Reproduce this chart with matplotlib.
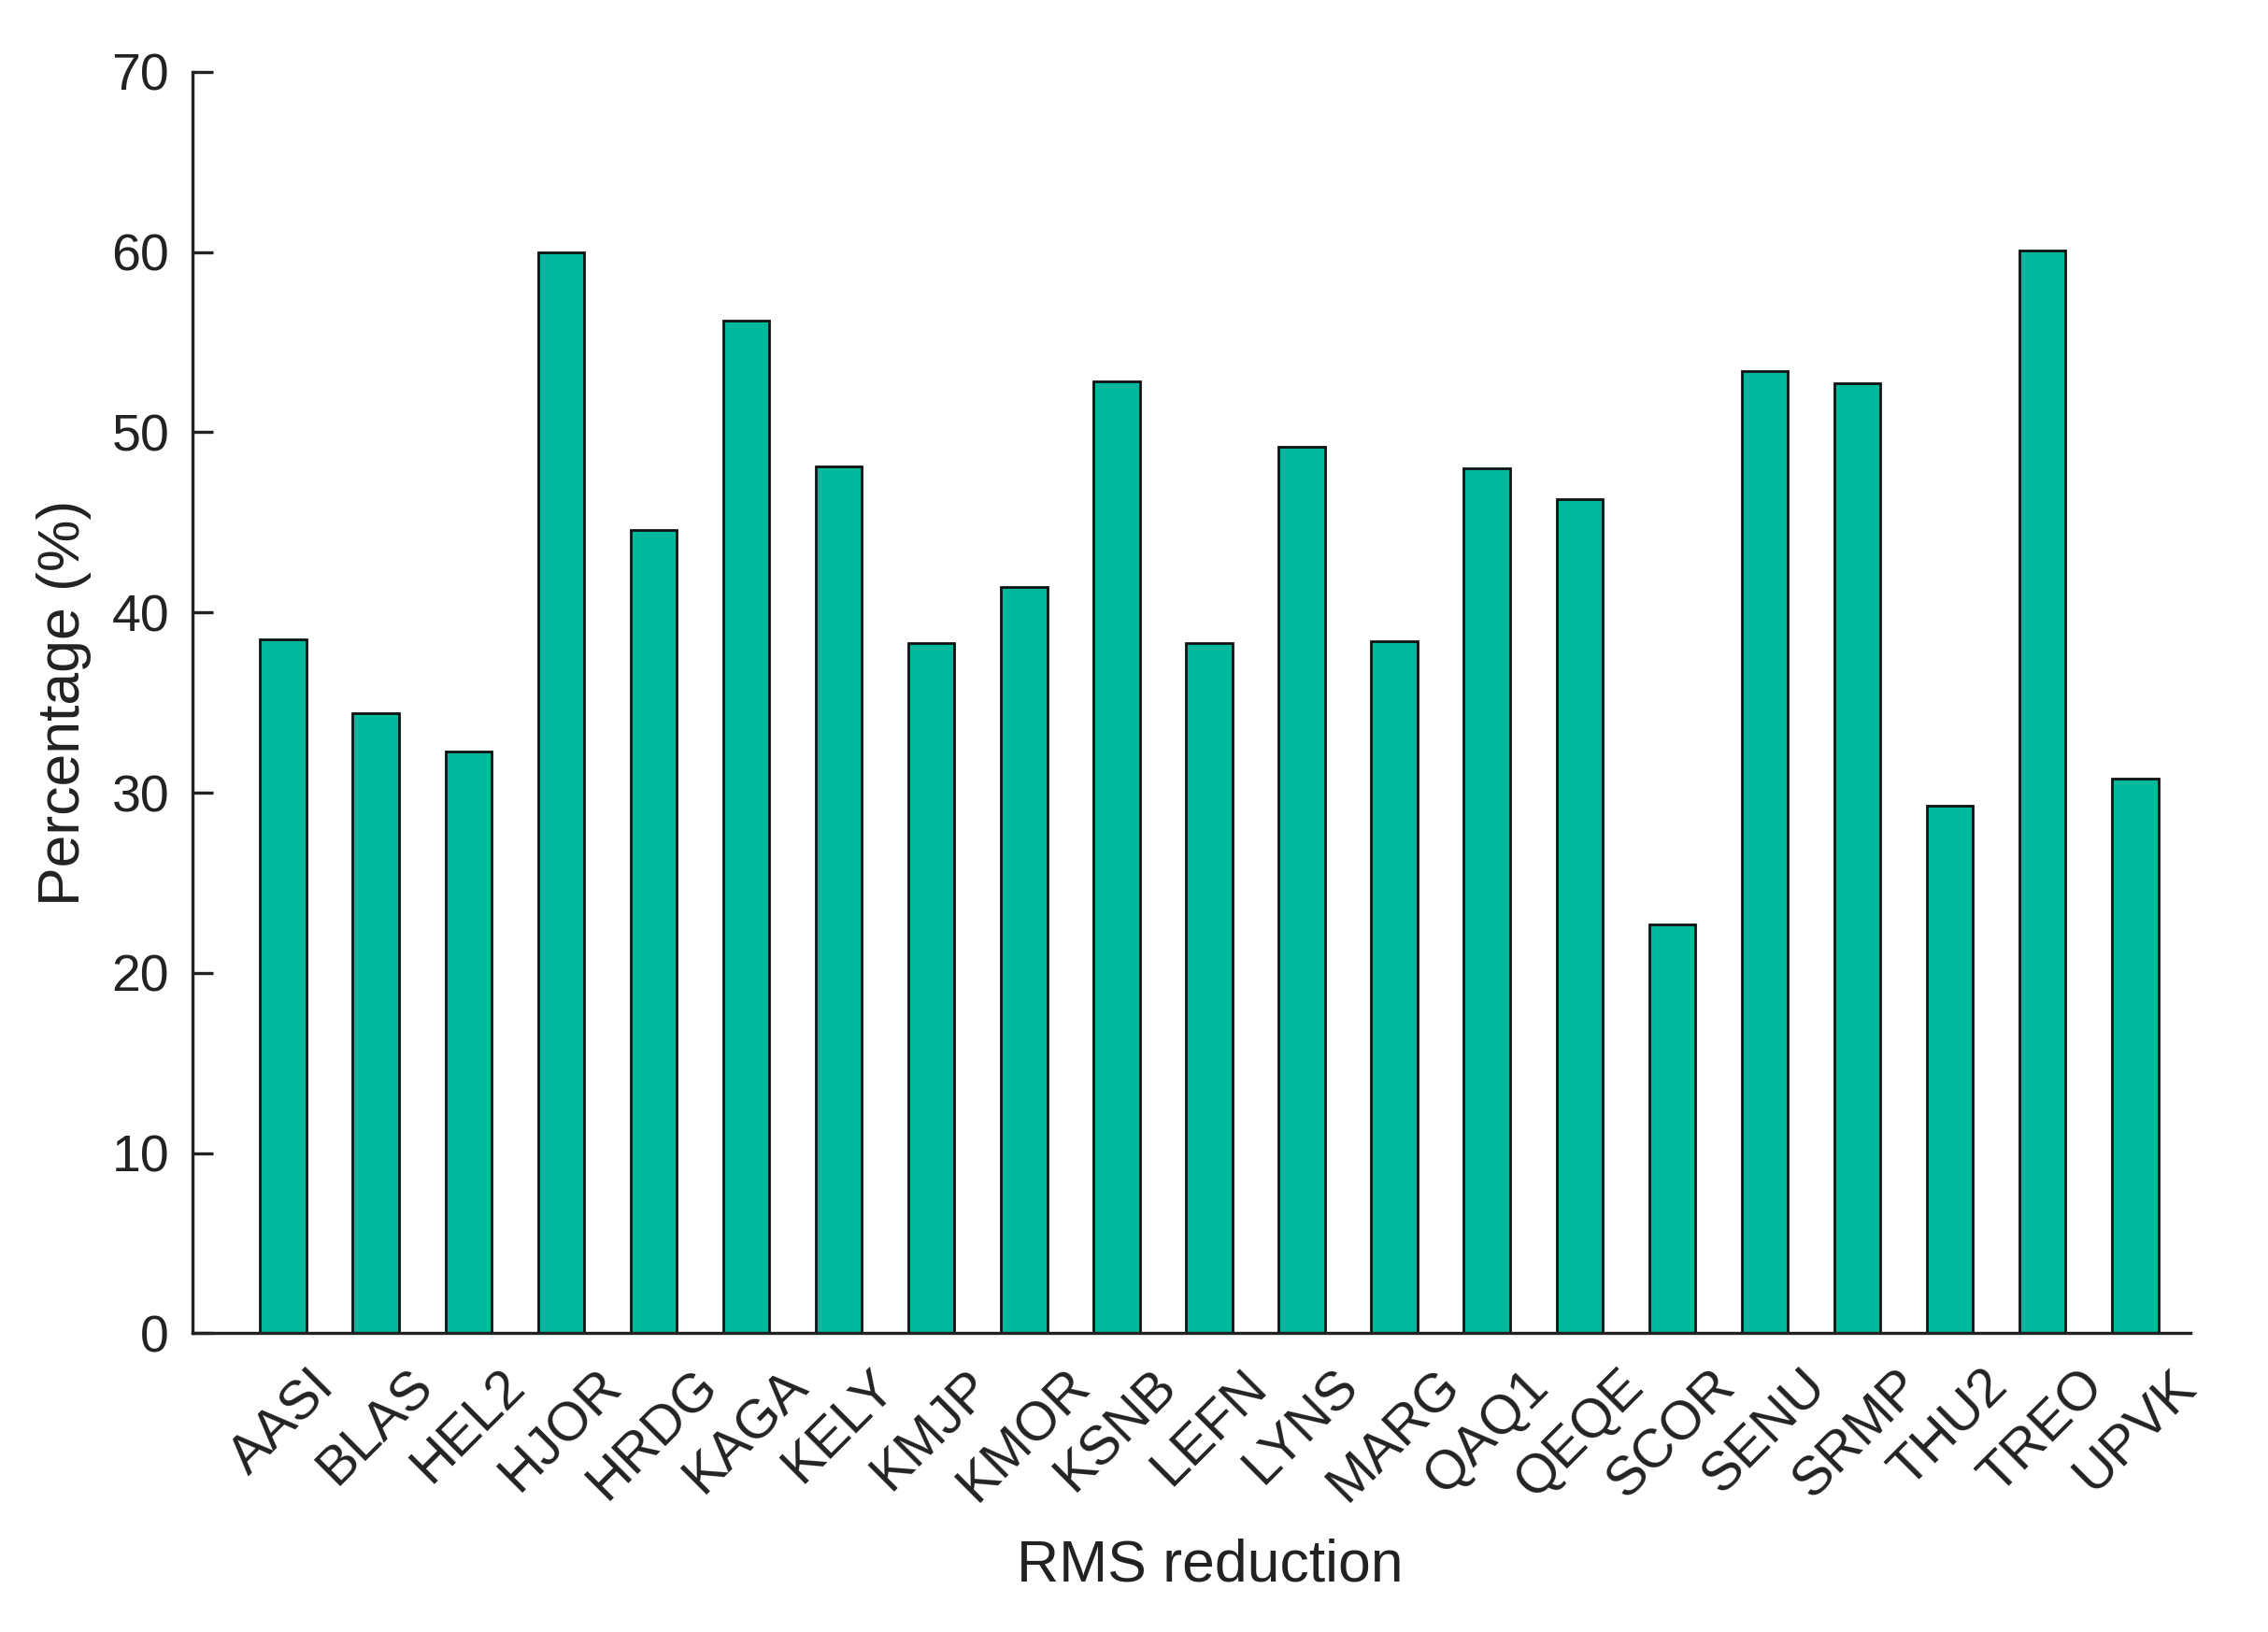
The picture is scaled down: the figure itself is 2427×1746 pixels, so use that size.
import numpy as np
from matplotlib import pyplot as plt

plt.rcParams['font.family'] = ['Liberation Sans', 'DejaVu Sans']

stations = ["AASI", "BLAS", "HEL2", "HJOR", "HRDG", "KAGA", "KELY", "KMJP",
            "KMOR", "KSNB", "LEFN", "LYNS", "MARG", "QAQ1", "QEQE", "SCOR",
            "SENU", "SRMP", "THU2", "TREO", "UPVK"]
rms_reduction = [38.5, 34.4, 32.3, 60.0, 44.6, 56.2, 48.1, 38.3,
                 41.4, 52.8, 38.3, 49.2, 38.4, 48.0, 46.3, 22.7,
                 53.4, 52.7, 29.3, 60.1, 30.8]
yticks = [0, 10, 20, 30, 40, 50, 60, 70]

ink = "#222222"

fig = plt.figure(figsize=(24.27, 17.46), dpi=100)
ax = fig.add_axes([0.0849, 0.183, 0.881, 0.773])

x = np.arange(len(stations))
ax.bar(x, rms_reduction, width=0.5, color="#00b89b", edgecolor="#111111",
       linewidth=2, zorder=2)

ax.set_xlim(-0.98, 20.6)
ax.set_ylim(0, 70)
ax.set_yticks(yticks)
ax.set_xticks(x)
ax.set_xticklabels(stations, rotation=45, fontsize=42, color=ink)

for side in ("top", "right"):
    ax.spines[side].set_visible(False)
for side in ("left", "bottom"):
    ax.spines[side].set_linewidth(2.4)
    ax.spines[side].set_color(ink)

ax.tick_params(axis="y", direction="in", length=16, width=2.4, pad=18,
               labelsize=40, colors=ink)
ax.tick_params(axis="x", length=0, pad=21)

ax.set_ylabel("Percentage (%)", fontsize=45, color=ink, labelpad=15)
ax.set_xlabel("RMS reduction", fontsize=45, color=ink, labelpad=20)
ax.xaxis.label.set_x(0.509)

fig.savefig("out.png", dpi=100)
